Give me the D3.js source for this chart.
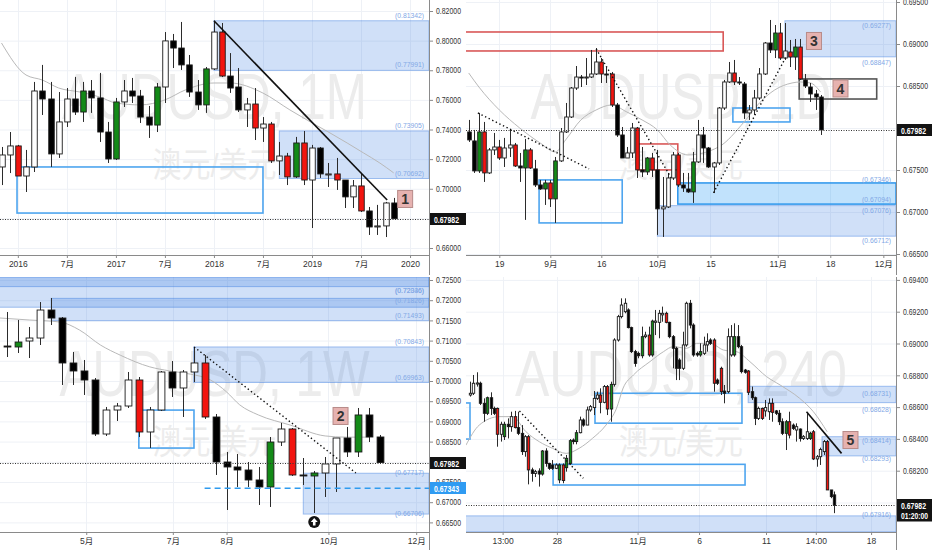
<!DOCTYPE html>
<html>
<head>
<meta charset="utf-8">
<script src="https://d3js.org/d3.v7.min.js"></script>
<style>
  body { margin: 0; background: #fff; }
  svg { display: block; }
  text { font-family: "Liberation Sans", Arial, "Noto Sans CJK SC", sans-serif; }
</style>
</head>
<body>
<svg id="chart" width="932" height="550"></svg>
<script>
// ---- data: AUDUSD monthly (Nov 2015 .. Nov 2019), [open, high, low, close, mark]
var monthly = [
  [0.7147,0.7282,0.7025,0.7228],[0.7228,0.7383,0.7106,0.7289],[0.7289,0.7296,0.7086,0.7086,'r'],
  [0.7086,0.7262,0.6978,0.7147],[0.7147,0.7721,0.7113,0.7660],[0.7660,0.7836,0.7498,0.7606],
  [0.7606,0.7721,0.7147,0.7235],[0.7235,0.7653,0.7208,0.7451],[0.7451,0.7680,0.7417,0.7606],
  [0.7606,0.7755,0.7498,0.7518],[0.7518,0.7721,0.7451,0.7660,'g'],[0.7660,0.7734,0.7512,0.7613],
  [0.7613,0.7782,0.7316,0.7383],[0.7383,0.7451,0.7174,0.7201],[0.7201,0.7613,0.7194,0.7586,'g'],
  [0.7586,0.7734,0.7552,0.7660],[0.7660,0.7748,0.7579,0.7626],[0.7626,0.7667,0.7444,0.7484],
  [0.7484,0.7559,0.7343,0.7430],[0.7430,0.7714,0.7383,0.7687,'g'],[0.7687,0.8058,0.7579,0.7998],
  [0.7998,0.8045,0.7815,0.7950],[0.7950,0.8126,0.7802,0.7836],[0.7836,0.7903,0.7620,0.7653],
  [0.7653,0.7734,0.7532,0.7566],[0.7566,0.7822,0.7512,0.7809,'g'],[0.7809,0.8134,0.7802,0.8058],
  [0.8058,0.8119,0.7754,0.7761,'r'],[0.7761,0.7916,0.7647,0.7680],[0.7687,0.7815,0.7518,0.7532],
  [0.7532,0.7613,0.7417,0.7572],[0.7572,0.7680,0.7329,0.7410,'r'],[0.7410,0.7484,0.7316,0.7437],
  [0.7437,0.7451,0.7174,0.7188,'r'],[0.7188,0.7316,0.7093,0.7221],[0.7221,0.7242,0.7025,0.7080,'r'],
  [0.7080,0.7350,0.7073,0.7309,'g'],[0.7309,0.7390,0.7025,0.7059,'r'],[0.7059,0.7296,0.6735,0.7275],
  [0.7275,0.7282,0.7073,0.7100],[0.7093,0.7174,0.7012,0.7100],[0.7100,0.7208,0.6992,0.7059,'r'],
  [0.7059,0.7059,0.6870,0.6945],[0.6945,0.7059,0.6870,0.7019],[0.7019,0.7106,0.6843,0.6850,'r'],
  [0.6850,0.6877,0.6688,0.6742],[0.6742,0.6891,0.6688,0.6749],[0.6749,0.6911,0.6674,0.6904],
  [0.6904,0.6938,0.6798,0.6798]
];
var monthlyMA = [[0,0.7984],[3,0.7768],[5,0.7734],[7,0.7680],[9.6,0.7653],[12,0.7620],[14,0.7579],
  [17,0.7566],[20,0.7600],[22.5,0.7667],[26,0.7714],[28,0.7714],[32,0.7646],[35.3,0.7532],
  [37.8,0.7451],[40.2,0.7377],[42.3,0.7309],[44.3,0.7242],[46.3,0.7174],[48,0.7107]];
var monthTickPos = [2,8,14,20,26,32,38,44,50];
var monthTickLab = ["2016","7月","2017","7月","2018","7月","2019","7月","2020"];
var monthPrices = [0.66,0.68,0.70,0.72,0.74,0.76,0.78,0.80,0.82];
var monthZones = [{top:0.81342,bot:0.77991,from:26},{top:0.73905,bot:0.70692,from:34}];
var monthZoneLabels = [0.81342,0.77991,0.73905,0.70692];
var monthBoxes = [{from:1.9,to:32,top:0.7147,bot:0.6836,kind:"blue"}];
var monthLines = [{a:[26,0.8134],b:[47.2,0.6924],kind:"solid"}];
var monthNotes = [{n:"1",at:49.4,p:0.6931}];

// ---- data: daily
var daily = [
  [0.67953,0.68096,0.67834,0.67858],[0.67846,0.67977,0.67465,0.67489],[0.67489,0.68179,0.67465,0.67953,'g'],
  [0.67953,0.68072,0.67358,0.67465,'r'],[0.67465,0.67762,0.67453,0.67739],[0.67739,0.67941,0.67679,0.67774],
  [0.67774,0.67858,0.67620,0.67643,'r'],[0.67643,0.67882,0.67536,0.67762],[0.67762,0.67977,0.67655,0.67798],
  [0.67798,0.67822,0.67536,0.67548,'r'],[0.67548,0.67703,0.67358,0.67524],[0.67524,0.67870,0.66906,0.67739,'g'],
  [0.67739,0.67762,0.67513,0.67524,'r'],[0.67513,0.67620,0.67298,0.67322],[0.67322,0.67382,0.67263,0.67274],
  [0.67274,0.67382,0.67084,0.67346,'g'],[0.67346,0.67382,0.67060,0.67156,'r'],[0.67156,0.67655,0.66870,0.67608,'g'],
  [0.67608,0.68000,0.67596,0.67953],[0.67953,0.68298,0.67941,0.68131],[0.68131,0.68488,0.68119,0.68476],
  [0.68476,0.68738,0.68453,0.68607],[0.68607,0.68631,0.68488,0.68595],[0.68595,0.68833,0.68512,0.68607],
  [0.68607,0.68929,0.68595,0.68643],[0.68643,0.68952,0.68631,0.68786],[0.68786,0.68833,0.68536,0.68643,'r'],
  [0.68643,0.68726,0.68536,0.68631],[0.68643,0.68667,0.68250,0.68274,'r'],[0.68274,0.68298,0.67894,0.67917],
  [0.67917,0.68012,0.67643,0.67643],[0.67643,0.67774,0.67643,0.67703],[0.67703,0.68060,0.67643,0.68000],
  [0.68000,0.68012,0.67405,0.67501,'r'],[0.67501,0.67774,0.67417,0.67477],[0.67477,0.67655,0.67441,0.67643,'g'],
  [0.67643,0.67703,0.67417,0.67501,'r'],[0.67501,0.67739,0.66727,0.67037],[0.67037,0.67417,0.66703,0.67060],
  [0.67060,0.67465,0.67048,0.67405],[0.67405,0.67715,0.67382,0.67679],[0.67679,0.67703,0.67298,0.67322,'r'],
  [0.67322,0.67465,0.67239,0.67286],[0.67274,0.67465,0.67227,0.67239],[0.67239,0.67715,0.67108,0.67596,'g'],
  [0.67596,0.68096,0.67584,0.67917],[0.67917,0.68012,0.67584,0.67762],[0.67762,0.67774,0.67524,0.67536],
  [0.67536,0.67596,0.67227,0.67584],[0.67584,0.68250,0.67560,0.68238],[0.68238,0.68572,0.68215,0.68548],
  [0.68548,0.68786,0.68536,0.68655],[0.68655,0.68810,0.68512,0.68548,'r'],[0.68548,0.68607,0.68512,0.68536],
  [0.68524,0.68548,0.68108,0.68179],[0.68179,0.68274,0.68096,0.68215],[0.68215,0.68453,0.68155,0.68357],
  [0.68357,0.68714,0.68334,0.68643],[0.68643,0.69024,0.68631,0.69012],[0.69012,0.69286,0.68893,0.68929],
  [0.68929,0.69226,0.68833,0.69131,'g'],[0.69131,0.69250,0.68810,0.68833,'r'],[0.68833,0.69250,0.68810,0.68917],
  [0.68905,0.69048,0.68726,0.68845,'r'],[0.68845,0.69060,0.68691,0.68964,'g'],[0.68964,0.69060,0.68572,0.68584,'r'],
  [0.68572,0.68643,0.68476,0.68500],[0.68488,0.68536,0.68310,0.68405],[0.68405,0.68453,0.68215,0.68369],
  [0.68369,0.68393,0.67917,0.67977]
];
var dailyMA = [[0,0.68655],[2,0.68488],[6,0.68215],[10,0.68000],[14,0.67822],[17,0.67715],[19,0.67858],
  [22,0.68096],[25,0.68215],[28,0.68274],[31,0.68191],[34,0.68096],[37,0.67977],[39.5,0.67798],
  [43,0.67679],[49,0.67774],[54,0.68072],[57,0.68298],[60,0.68453],[63.4,0.68536],[65,0.68548],
  [67,0.68536],[69,0.68429]];
var dayTickPos = [6,16,26,37,47.4,60.6,70.9,81.3];
var dayTickLab = ["19","9月","16","10月","15","11月","18","12月"];
var dayPrices = [0.665,0.670,0.675,0.680,0.685,0.690,0.695];
var dayZones = [{top:0.69277,bot:0.68847,from:62},{top:0.67346,bot:0.67094,from:41,kind:"hi"},
  {top:0.67076,bot:0.66712,from:37}];
var dayZoneLabels = [0.69277,0.68847,0.67346,0.67094,0.67076,0.66712];
var dayBoxes = [{from:-5,to:49.9,top:0.69143,bot:0.68917,kind:"red"},{from:33.3,to:41,top:0.67810,bot:0.67501,kind:"red"},
  {from:13.8,to:30.1,top:0.67382,bot:0.66870,kind:"blue"},{from:64.8,to:80,top:0.68584,bot:0.68345,kind:"black"},
  {from:51.8,to:63,top:0.68238,bot:0.68072,kind:"blue"}];
var dayLines = [{a:[1.8,0.68179],b:[23.6,0.67513],kind:"dot"},{a:[25,0.68941],b:[39.7,0.67405],kind:"dot"},
  {a:[48,0.67227],b:[62.2,0.68845],kind:"dot"}];
var dayNotes = [{n:"3",at:67.7,p:0.69036},{n:"4",at:72.9,p:0.68470}];

// ---- data: weekly
var weekly = [
  [0.70866,0.71708,0.70594,0.70842],[0.70842,0.71510,0.70693,0.70965,'g'],[0.70990,0.71337,0.70569,0.71064],
  [0.71064,0.71955,0.70891,0.71757],[0.71757,0.72054,0.71386,0.71559],[0.71559,0.71584,0.69901,0.70446],
  [0.70446,0.70718,0.69901,0.70248],[0.70248,0.70520,0.69654,0.70025],[0.70025,0.70074,0.68639,0.68688],
  [0.68688,0.69357,0.68639,0.69282],[0.69282,0.69456,0.69010,0.69381],[0.69381,0.70223,0.69332,0.70025],
  [0.70025,0.70099,0.68614,0.68738,'r'],[0.68738,0.69357,0.68342,0.69282],[0.69282,0.70248,0.69257,0.70223],
  [0.70223,0.70495,0.69604,0.69827],[0.69827,0.70272,0.69109,0.70223],[0.70223,0.70842,0.69975,0.70446],
  [0.70446,0.70644,0.69060,0.69109,'r'],[0.69109,0.69183,0.67674,0.67995],[0.67995,0.68243,0.66807,0.67872],
  [0.67872,0.68193,0.67377,0.67797],[0.67797,0.67995,0.67377,0.67550],[0.67550,0.67872,0.66931,0.67377],
  [0.67377,0.68614,0.66882,0.68490,'g'],[0.68490,0.68961,0.68391,0.68812],[0.68812,0.68837,0.67649,0.67674,'r'],
  [0.67674,0.68094,0.67426,0.67649],[0.67649,0.67773,0.66733,0.67723,'g'],[0.67723,0.68119,0.67129,0.67946],
  [0.67946,0.68589,0.67253,0.68589],[0.68589,0.68862,0.68119,0.68243],[0.68243,0.69332,0.68119,0.69159,'g'],
  [0.69159,0.69332,0.68490,0.68614],[0.68614,0.68664,0.67971,0.67982]
];
var weeklyMA = [[-0.7,0.7156],[2,0.7151],[4.8,0.7146],[6.6,0.7126],[8.5,0.7089],[10.3,0.7064],[13,0.7035],
  [14.8,0.7025],[16.7,0.7017],[18.5,0.7003],[20,0.6973],[21.2,0.6941],[22.9,0.6916],[25.8,0.6891],
  [29,0.6864],[30.9,0.6861],[33,0.6861]];
var weekTickPos = [7.2,15.1,20,29.3,37.3];
var weekTickLab = ["5月","7月","8月","10月","12月"];
var weekPrices = [0.665,0.670,0.675,0.680,0.685,0.690,0.695,0.700,0.705,0.710,0.715,0.720,0.725];
var weekZones = [{top:0.7257,bot:0.71826,from:-5},{top:0.7265,bot:0.72336,from:-5},{top:0.72046,bot:0.71493,from:4},
  {top:0.70843,bot:0.69963,from:17},{top:0.67717,bot:0.66706,from:27}];
var weekZoneLabels = [0.72336,0.72046,0.71826,0.71493,0.70843,0.69963,0.67717,0.66706];
var weekBoxes = [{from:12,to:17.03,top:0.6928,bot:0.6834,kind:"blue"}];
var weekLines = [{a:[17.04,0.70842],b:[31.8,0.67723],kind:"dot"}];
var weekNotes = [{n:"2",at:30.4,p:0.69134}];
var weekLevel = {from:18, p:0.67343};
var weekArrow = {at:28, p:0.6651};

// ---- data: 4 hour
var h4 = [
  [0.68676,0.68760,0.68666,0.68687],[0.68687,0.68802,0.68676,0.68750],[0.68745,0.68819,0.68729,0.68752],
  [0.68750,0.68760,0.68613,0.68624],[0.68624,0.68655,0.68508,0.68561],[0.68561,0.68666,0.68550,0.68659,'g'],
  [0.68659,0.68693,0.68550,0.68592],[0.68592,0.68603,0.68550,0.68561],[0.68592,0.68597,0.68351,0.68429,'r'],
  [0.68429,0.68508,0.68383,0.68492],[0.68414,0.68508,0.68393,0.68492,'g'],[0.68492,0.68529,0.68403,0.68477],
  [0.68477,0.68571,0.68445,0.68540],[0.68540,0.68576,0.68466,0.68471,'r'],[0.68471,0.68571,0.68424,0.68435],
  [0.68435,0.68487,0.68299,0.68320],[0.68320,0.68424,0.68288,0.68414],[0.68414,0.68424,0.68114,0.68205,'r'],
  [0.68205,0.68219,0.68131,0.68183],[0.68183,0.68205,0.68160,0.68194],[0.68198,0.68215,0.68100,0.68179],
  [0.68179,0.68330,0.68169,0.68324,'g'],[0.68324,0.68341,0.68225,0.68246],[0.68246,0.68250,0.68205,0.68215],
  [0.68236,0.68267,0.68205,0.68215],[0.68215,0.68246,0.68210,0.68236],[0.68142,0.68246,0.68121,0.68236,'g'],
  [0.68236,0.68246,0.68121,0.68138,'r'],[0.68219,0.68299,0.68194,0.68278,'g'],[0.68246,0.68399,0.68236,0.68389,'g'],
  [0.68393,0.68403,0.68366,0.68383],[0.68383,0.68456,0.68366,0.68439,'g'],[0.68439,0.68540,0.68435,0.68519],
  [0.68519,0.68529,0.68477,0.68487],[0.68487,0.68603,0.68487,0.68582],[0.68582,0.68613,0.68571,0.68603],
  [0.68597,0.68701,0.68550,0.68655],[0.68655,0.68697,0.68645,0.68676],[0.68676,0.68718,0.68561,0.68630,'r'],
  [0.68630,0.68739,0.68624,0.68729],[0.68729,0.68739,0.68550,0.68588,'r'],[0.68588,0.68760,0.68508,0.68743,'g'],
  [0.68743,0.69033,0.68729,0.69022],[0.69022,0.69180,0.69012,0.69169],[0.69169,0.69284,0.69158,0.69242],
  [0.69200,0.69284,0.69190,0.69253],[0.69211,0.69221,0.69095,0.69100],[0.69100,0.69106,0.68940,0.68949],
  [0.68949,0.68960,0.68854,0.68875],[0.68938,0.68949,0.68907,0.68923],[0.68923,0.69106,0.68907,0.69043,'g'],
  [0.69043,0.69074,0.69033,0.69053],[0.69053,0.69106,0.68917,0.68928,'r'],[0.68928,0.69150,0.68917,0.69141,'g'],
  [0.69133,0.69211,0.69053,0.69141],[0.69133,0.69211,0.69033,0.69190],[0.69180,0.69232,0.69137,0.69190],
  [0.69190,0.69200,0.69127,0.69133,'r'],[0.69133,0.69137,0.69033,0.69043],[0.69043,0.69053,0.68844,0.68970],
  [0.68970,0.68980,0.68770,0.68844],[0.68896,0.68907,0.68770,0.68844],[0.68844,0.69074,0.68833,0.68991],
  [0.68991,0.69263,0.68980,0.69253],[0.69253,0.69274,0.69095,0.69116],[0.69116,0.69127,0.68917,0.68928],
  [0.68938,0.68949,0.68917,0.68928],[0.68928,0.69001,0.68917,0.68949,'g'],[0.68938,0.69043,0.68928,0.68991],
  [0.68991,0.69064,0.68949,0.69012],[0.69022,0.69033,0.68991,0.69001],[0.69022,0.69033,0.68697,0.68750,'r'],
  [0.68770,0.68780,0.68739,0.68750],[0.68844,0.68854,0.68676,0.68697,'r'],[0.68701,0.68739,0.68624,0.68687],
  [0.68697,0.69095,0.68687,0.69043],[0.68928,0.69116,0.68917,0.69043],[0.68928,0.69127,0.68917,0.69043,'g'],
  [0.69043,0.69116,0.68970,0.68980],[0.68980,0.68991,0.68812,0.68823],[0.68833,0.68840,0.68810,0.68819],
  [0.68827,0.68833,0.68676,0.68693,'r'],[0.68697,0.68729,0.68645,0.68659],[0.68659,0.68666,0.68487,0.68529],
  [0.68529,0.68603,0.68519,0.68592],[0.68592,0.68597,0.68519,0.68529,'r'],[0.68576,0.68645,0.68540,0.68597],
  [0.68571,0.68655,0.68519,0.68624],[0.68624,0.68655,0.68508,0.68567,'r'],[0.68576,0.68582,0.68550,0.68561],
  [0.68561,0.68582,0.68487,0.68508],[0.68508,0.68529,0.68424,0.68435],[0.68435,0.68519,0.68330,0.68508,'g'],
  [0.68508,0.68571,0.68403,0.68424,'r'],[0.68487,0.68497,0.68456,0.68466],[0.68456,0.68498,0.68383,0.68477],
  [0.68462,0.68466,0.68383,0.68403],[0.68403,0.68424,0.68393,0.68414],[0.68403,0.68561,0.68393,0.68445],
  [0.68403,0.68445,0.68393,0.68435,'g'],[0.68445,0.68456,0.68267,0.68274,'r'],[0.68274,0.68299,0.68225,0.68288],
  [0.68288,0.68345,0.68236,0.68334],[0.68320,0.68393,0.68299,0.68383],[0.68383,0.68393,0.68079,0.68079,'r'],
  [0.68079,0.68079,0.68027,0.68037],[0.68048,0.68069,0.67933,0.67982]
];
var h4MA = [[-1.2,0.6836],[2.7,0.68487],[8.5,0.68540],[12.4,0.68540],[16.3,0.68445],[20.2,0.68382],[24,0.68341],
  [28,0.68309],[31.8,0.68341],[35.7,0.68404],[39.6,0.68487],[42.7,0.68594],[44.6,0.68720],[47.6,0.68802],
  [52.4,0.68886],[56.3,0.68948],[59.2,0.68980],[63.1,0.68970],[66,0.69001],[70,0.69001],[73.8,0.68959],
  [77.7,0.68948],[81.5,0.68886],[86.4,0.68791],[90.3,0.68739],[96,0.68655],[100,0.68571],[104,0.68445]];
var h4TickPos = [9.5,25.3,48.8,66.7,86.2,100.7,116.8];
var h4TickLab = ["13:00","28","11月","6","11","14:00","18"];
var h4Prices = [0.680,0.682,0.684,0.686,0.688,0.690,0.692,0.694];
var h4Zones = [{top:0.67916,bot:0.67816,from:-5},{top:0.68731,bot:0.68628,from:81},{top:0.68414,bot:0.68293,from:102.5}];
var h4ZoneLabels = [0.67916,0.68731,0.68628,0.68414,0.68293];
var h4Boxes = [{from:-5,to:0,top:0.68626,bot:0.68399,kind:"blue"},{from:36.4,to:79.2,top:0.68687,bot:0.68499,kind:"blue"},
  {from:24.2,to:80.1,top:0.68240,bot:0.68110,kind:"blue"}];
var h4Lines = [{a:[14.4,0.68575],b:[33,0.68152],kind:"dot"},{a:[98,0.68571],b:[108.2,0.68309],kind:"solid"}];
var h4Notes = [{n:"5",at:110.8,p:0.68393}];

var lastPrice = 0.67982;

// ---- styles
var RED = "#f2140f", GREEN = "#138a17";
var boxColor = {blue:"#4ea5ef", red:"#d95858", black:"#555555"};
var svg = d3.select("#chart");

function drawPanel(p) {
  var L = p.box[0], T = p.box[1], R = p.box[2], B = p.box[3];
  var x = d3.scaleLinear().domain(p.xDomain).range(p.xRange);
  var y = d3.scaleLinear().domain(p.yDomain).range(p.yRange);
  var g = svg.append("g");
  svg.append("clipPath").attr("id", "clip" + p.id).append("rect")
    .attr("x", L).attr("y", T).attr("width", R - L).attr("height", B - T);
  var plot = g.append("g").attr("clip-path", "url(#clip" + p.id + ")");

  // grid
  plot.selectAll(".hg").data(p.prices).join("line").attr("class", "hg")
    .attr("x1", L).attr("x2", R).attr("y1", d => y(d) + 0.5).attr("y2", d => y(d) + 0.5)
    .attr("stroke", "#eef1f6");
  plot.selectAll(".vg").data(p.tickPos).join("line").attr("class", "vg")
    .attr("y1", T).attr("y2", B).attr("x1", d => Math.round(x(d)) + 0.5).attr("x2", d => Math.round(x(d)) + 0.5)
    .attr("stroke", "#eef1f6");

  // watermark
  var cx = (L + R) / 2;
  plot.append("text").attr("x", cx).attr("y", T + 119).attr("text-anchor", "middle")
    .attr("font-size", 64).attr("textLength", p.wmLen).attr("lengthAdjust", "spacingAndGlyphs")
    .attr("fill", "#ececec").text(p.title);
  plot.append("text").attr("x", cx).attr("y", T + 177).attr("text-anchor", "middle")
    .attr("font-family", "Noto Sans CJK SC").attr("font-size", 34)
    .attr("textLength", 124).attr("lengthAdjust", "spacingAndGlyphs")
    .attr("fill", "#ececec").text("澳元/美元");

  // zones
  plot.selectAll(".zone").data(p.zones).join("rect").attr("class", "zone")
    .attr("x", d => x(d.from)).attr("width", d => R - x(d.from))
    .attr("y", d => y(d.top)).attr("height", d => y(d.bot) - y(d.top))
    .attr("fill", d => d.kind === "hi" ? "rgba(33,150,243,0.28)" : "rgba(60,125,225,0.24)")
    .attr("stroke", d => d.kind === "hi" ? "#2b95ec" : "rgba(60,125,225,0.45)")
    .attr("stroke-width", d => d.kind === "hi" ? 1.5 : 1);

  // outline boxes
  plot.selectAll(".obox").data(p.boxes).join("rect").attr("class", "obox")
    .attr("x", d => x(d.from)).attr("width", d => x(d.to) - x(d.from))
    .attr("y", d => y(d.top)).attr("height", d => y(d.bot) - y(d.top))
    .attr("fill", "none").attr("stroke", d => boxColor[d.kind]).attr("stroke-width", 1.6);

  // moving average
  plot.append("path").datum(p.ma)
    .attr("d", d3.line().x(d => x(d[0])).y(d => y(d[1])).curve(d3.curveMonotoneX))
    .attr("fill", "none").attr("stroke", "#b9b9b9").attr("stroke-width", 1);

  // candles
  var data = p.candles.map((c, i) => ({i: i, o: c[0], h: c[1], l: c[2], c: c[3], f: c[4]}));
  var bw = p.bodyW;
  plot.selectAll(".wick").data(data).join("line").attr("class", "wick")
    .attr("x1", d => Math.round(x(d.i)) + 0.5).attr("x2", d => Math.round(x(d.i)) + 0.5)
    .attr("y1", d => y(d.h)).attr("y2", d => y(d.l))
    .attr("stroke", "#2b2b2b").attr("stroke-width", 1);
  plot.selectAll(".body").data(data).join("rect").attr("class", "body")
    .attr("x", d => Math.round(x(d.i)) + 0.5 - bw / 2).attr("width", bw)
    .attr("y", d => y(Math.max(d.o, d.c)))
    .attr("height", d => Math.max(1, Math.abs(y(d.o) - y(d.c))))
    .attr("fill", d => d.f === "r" ? RED : d.f === "g" ? GREEN : (d.c >= d.o ? "#ffffff" : "#000000"))
    .attr("stroke", "#1a1a1a").attr("stroke-width", 0.9);

  // trend lines
  plot.selectAll(".tl").data(p.lines).join("line").attr("class", "tl")
    .attr("x1", d => x(d.a[0])).attr("y1", d => y(d.a[1]))
    .attr("x2", d => x(d.b[0])).attr("y2", d => y(d.b[1]))
    .attr("stroke", "#111").attr("stroke-width", d => d.kind === "dot" ? 1.4 : 1.6)
    .attr("stroke-dasharray", d => d.kind === "dot" ? "1.4,2.6" : null);

  // last price line
  plot.append("line").attr("x1", L).attr("x2", R)
    .attr("y1", Math.round(y(lastPrice)) + 0.5).attr("y2", Math.round(y(lastPrice)) + 0.5)
    .attr("stroke", "#333").attr("stroke-width", 1).attr("stroke-dasharray", "1,1.5");

  // zone labels
  plot.selectAll(".zl").data(p.zoneLabels).join("text").attr("class", "zl")
    .attr("x", R - 5).attr("y", (d, i) => y(d) + p.labelDy[i])
    .attr("text-anchor", "end").attr("dominant-baseline", "middle")
    .attr("font-size", 8).attr("textLength", 29).attr("lengthAdjust", "spacingAndGlyphs")
    .attr("fill", "#82a8e6").text(d => "(" + d.toFixed(5) + ")");

  // numbered notes
  var notes = plot.selectAll(".note").data(p.notes).join("g").attr("class", "note")
    .attr("transform", d => "translate(" + x(d.at) + "," + y(d.p) + ")");
  notes.append("rect").attr("x", -7.5).attr("y", -8.5).attr("width", 15).attr("height", 17)
    .attr("fill", "#e6b2b0").attr("stroke", "#b88b89").attr("stroke-width", 1);
  notes.append("text").attr("text-anchor", "middle").attr("y", 5).attr("font-size", 14)
    .attr("font-weight", "bold").attr("fill", "#333").text(d => d.n);

  if (p.level) {
    plot.append("line").attr("x1", x(p.level.from)).attr("x2", R)
      .attr("y1", y(p.level.p)).attr("y2", y(p.level.p))
      .attr("stroke", "#2e9bf0").attr("stroke-width", 1.5).attr("stroke-dasharray", "6,4");
  }
  if (p.arrow) {
    var ag = plot.append("g").attr("transform", "translate(" + x(p.arrow.at) + "," + y(p.arrow.p) + ")");
    ag.append("circle").attr("r", 6).attr("fill", "#111");
    ag.append("path").attr("d", "M0,-4 L3.5,0 L1.3,0 L1.3,3.5 L-1.3,3.5 L-1.3,0 L-3.5,0 Z").attr("fill", "#fff");
  }

  // price axis
  var ya = d3.axisRight(y).tickValues(p.prices).tickSize(4).tickPadding(3).tickFormat(d3.format(".5f"));
  var yg = g.append("g").attr("transform", "translate(" + R + ",0)").call(ya);
  yg.select(".domain").remove();
  yg.selectAll("line").attr("stroke", "#8a8a8a");
  yg.selectAll("text").attr("font-size", 8.5).attr("fill", "#333")
    .attr("textLength", 25).attr("lengthAdjust", "spacingAndGlyphs");

  // time axis
  var xa = d3.axisBottom(x).tickValues(p.tickPos).tickSize(3).tickPadding(3)
    .tickFormat((d, i) => p.tickLab[i]);
  var xg = g.append("g").attr("transform", "translate(0," + B + ")").call(xa);
  xg.select(".domain").remove();
  xg.selectAll("line").attr("stroke", "#8a8a8a");
  xg.selectAll("text").attr("font-size", 8.5).attr("fill", "#333");

  g.append("line").attr("x1", R + 0.5).attr("x2", R + 0.5).attr("y1", T).attr("y2", B + 20)
    .attr("stroke", "#8a8a8a");
  g.append("line").attr("x1", L).attr("x2", R).attr("y1", B + 0.5).attr("y2", B + 0.5)
    .attr("stroke", "#8a8a8a");

  // price tags
  var tags = [{p: lastPrice, txt: d3.format(".5f")(lastPrice), fill: "#131313"}];
  if (p.level) tags.push({p: p.level.p, txt: d3.format(".5f")(p.level.p), fill: "#2f9bf2"});
  tags.forEach(t => {
    var ty = Math.round(y(t.p));
    g.append("rect").attr("x", R + 1).attr("y", ty - 6).attr("width", 36).attr("height", 12).attr("fill", t.fill);
    g.append("text").attr("x", R + 5).attr("y", ty + 3.5).attr("font-size", 8.5).attr("font-weight", "bold")
      .attr("textLength", 25).attr("lengthAdjust", "spacingAndGlyphs").attr("fill", "#fff").text(t.txt);
  });
  if (p.timer) {
    var ty2 = Math.round(y(lastPrice)) + 11;
    g.append("rect").attr("x", R + 1).attr("y", ty2 - 5.5).attr("width", 36).attr("height", 11).attr("fill", "#131313");
    g.append("text").attr("x", R + 5).attr("y", ty2 + 3).attr("font-size", 8.5).attr("font-weight", "bold")
      .attr("textLength", 27).attr("lengthAdjust", "spacingAndGlyphs").attr("fill", "#fff").text(p.timer);
  }
}

drawPanel({id: 1, box: [0, 0, 429, 255], xDomain: [0, 48], xRange: [1.5, 393.7],
  yDomain: [0.66, 0.82], yRange: [248, 11], bodyW: 5.5, title: "AUDUSD, 1M", wmLen: 305,
  candles: monthly, ma: monthlyMA, prices: monthPrices, tickPos: monthTickPos, tickLab: monthTickLab,
  zones: monthZones, zoneLabels: monthZoneLabels, labelDy: [-5, -5, -5, -5], boxes: monthBoxes,
  lines: monthLines, notes: monthNotes});

drawPanel({id: 2, box: [466, 0, 896, 255], xDomain: [0, 69], xRange: [468.7, 820.6],
  yDomain: [0.665, 0.695], yRange: [254, 2], bodyW: 3.6, title: "AUDUSD, 1D", wmLen: 301,
  candles: daily, ma: dailyMA, prices: dayPrices, tickPos: dayTickPos, tickLab: dayTickLab,
  zones: dayZones, zoneLabels: dayZoneLabels, labelDy: [5, 6, -3, -4, 5, 5], boxes: dayBoxes,
  lines: dayLines, notes: dayNotes});

drawPanel({id: 3, box: [0, 277, 429, 532], xDomain: [0, 34], xRange: [7.3, 380],
  yDomain: [0.665, 0.725], yRange: [522.4, 280], bodyW: 6.8, title: "AUDUSD, 1W", wmLen: 310,
  candles: weekly, ma: weeklyMA, prices: weekPrices, tickPos: weekTickPos, tickLab: weekTickLab,
  zones: weekZones, zoneLabels: weekZoneLabels, labelDy: [4, -7, -6, -5, -5, -5, 0, 0], boxes: weekBoxes,
  lines: weekLines, notes: weekNotes, level: weekLevel, arrow: weekArrow});

drawPanel({id: 4, box: [466, 277, 896, 532], xDomain: [0, 106], xRange: [470, 834],
  yDomain: [0.680, 0.694], yRange: [502.5, 279.9], bodyW: 2.4, title: "AUDUSD, 240", wmLen: 332,
  candles: h4, ma: h4MA, prices: h4Prices, tickPos: h4TickPos, tickLab: h4TickLab,
  zones: h4Zones, zoneLabels: h4ZoneLabels, labelDy: [-1, 8, 7, 4, 3], boxes: h4Boxes,
  lines: h4Lines, notes: h4Notes, timer: "01:20:00"});
</script>
</body>
</html>
